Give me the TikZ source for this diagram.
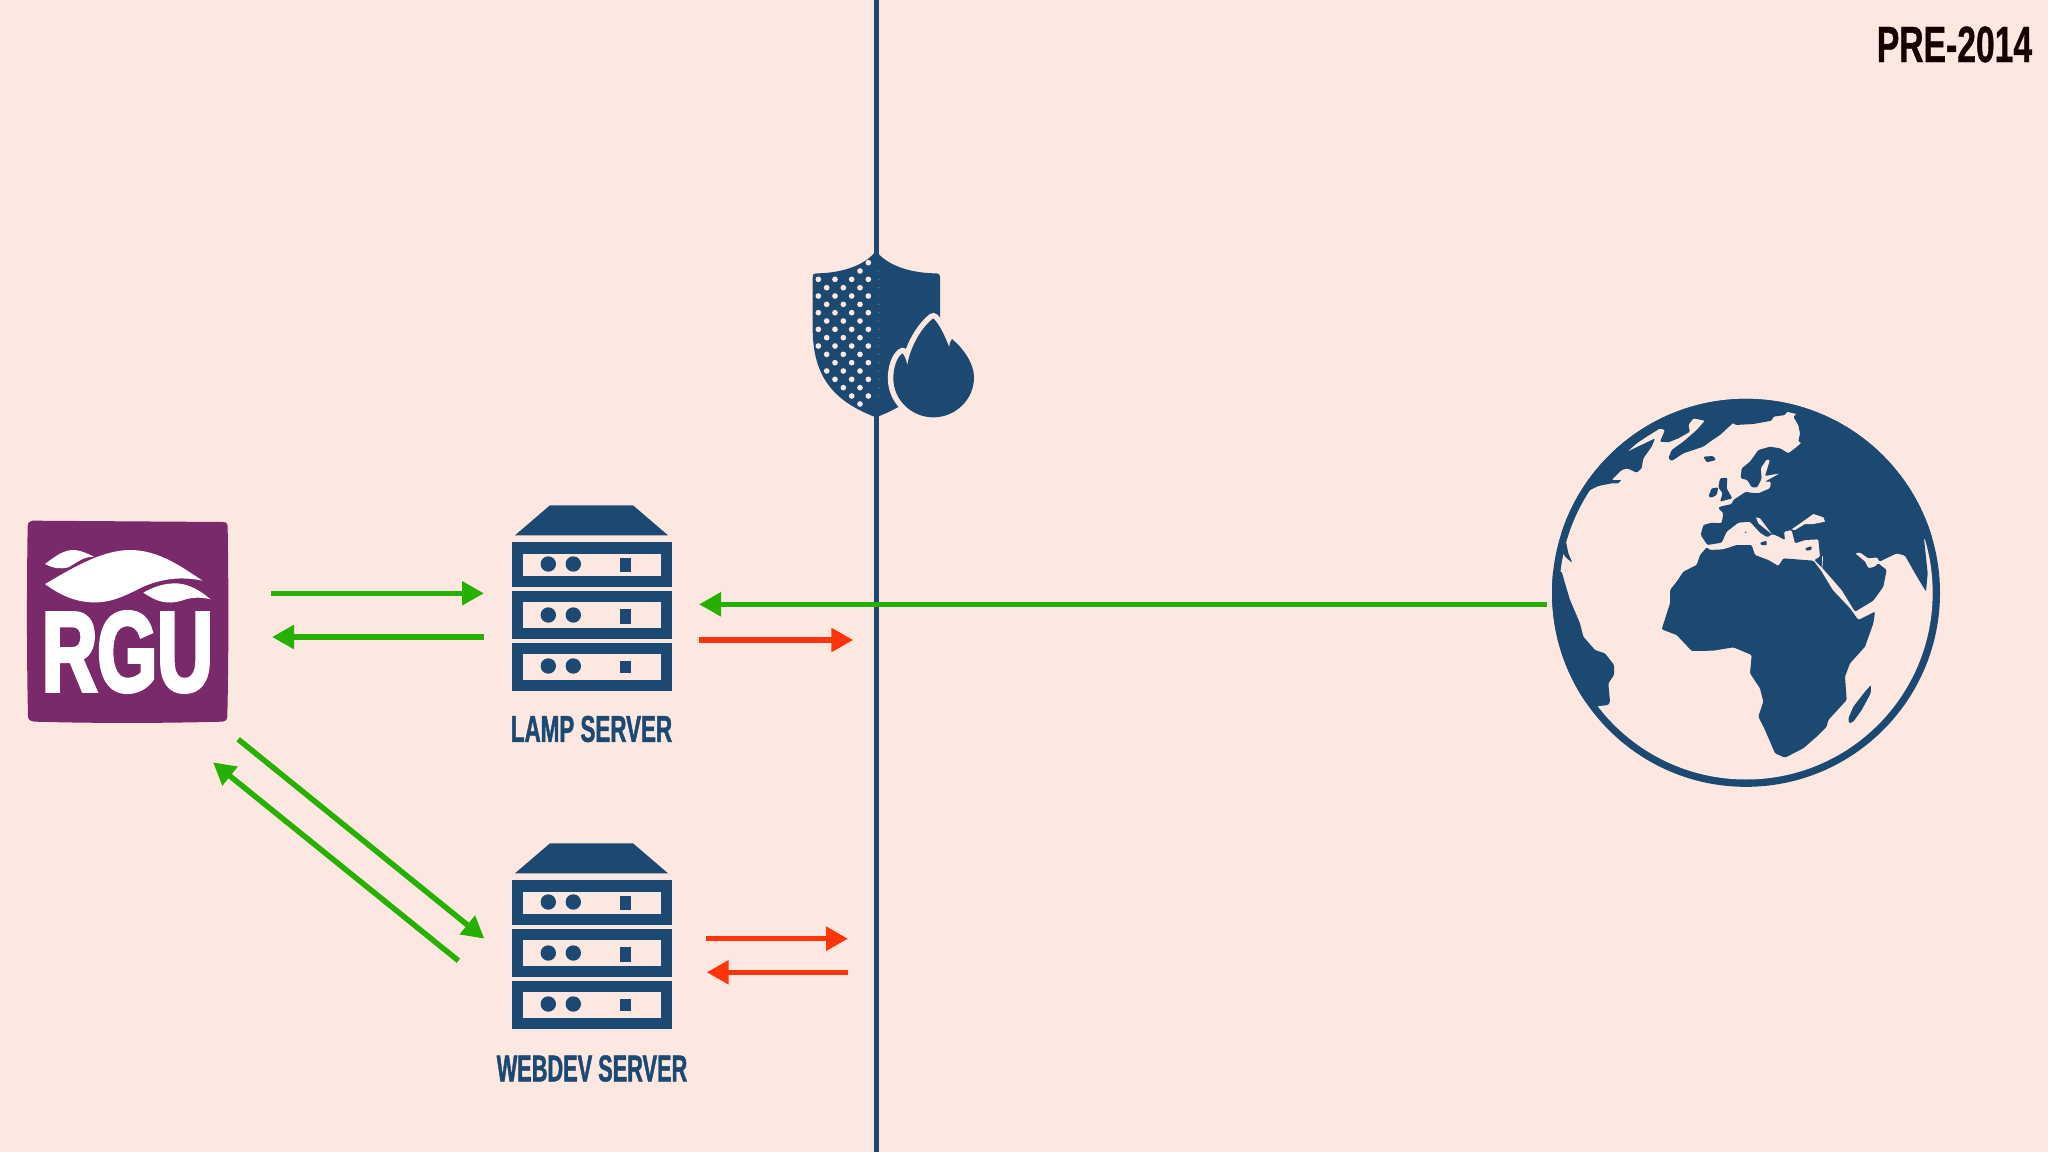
\documentclass[tikz,border=0pt]{standalone}
\usepackage{fontspec}
\usetikzlibrary{arrows.meta}
\newfontfamily\lampfont[FakeStretch=0.60,FakeBold=1.2]{Liberation Sans}
\newfontfamily\webfont[FakeStretch=0.583,FakeBold=1.2]{Liberation Sans}
\newfontfamily\prefont[FakeStretch=0.66,FakeBold=0.7]{Liberation Sans}
\newfontfamily\rgufont[FakeStretch=0.675,FakeBold=3]{Liberation Sans}
\definecolor{bgc}{HTML}{FDE8E1}
\definecolor{navy}{HTML}{1C4972}
\definecolor{flowgreen}{HTML}{26B000}
\definecolor{flowred}{HTML}{FF3408}
\definecolor{plum}{HTML}{7A2A6B}
\tikzset{
  okflow/.style={draw=flowgreen,line width=5.5pt,-{Triangle[length=22pt,width=23pt,fill=flowgreen]}},
  badflow/.style={draw=flowred,line width=5.5pt,-{Triangle[length=22pt,width=23pt,fill=flowred]}},
  land/.style={fill=navy,draw=none,rounded corners=1.2pt},
  sea/.style={fill=bgc,draw=none},
  servername/.style={text=navy,inner sep=0pt,anchor=center},
  server/.pic={
    \fill[navy] (38,-37) -- (121,-37) -- (156,-7) -- (3,-7) -- cycle;
    \fill[navy] (0,0) rectangle (160,44.7);
    \fill[navy] (0,48.7) rectangle (160,96.4);
    \fill[navy] (0,100.7) rectangle (160,148.7);
    \fill[bgc] (11,11.4) rectangle (149,33.7);
    \fill[bgc] (11,59.7) rectangle (149,85.7);
    \fill[bgc] (11,111.7) rectangle (149,137.7);
    \foreach \yy in {21.7,72.7,123.7}{
      \fill[navy] (36.3,\yy) circle[radius=7.7];
      \fill[navy] (61.3,\yy) circle[radius=7.7];
    }
    \fill[navy] (108,15.4) rectangle (119.3,30);
    \fill[navy] (108,67) rectangle (119.3,81.7);
    \fill[navy] (108,119) rectangle (119.3,130.4);
  }
}
\begin{document}
\begin{tikzpicture}[x=1pt,y=-1pt]
\useasboundingbox (0,0) rectangle (2048,1152);
\fill[bgc] (0,0) rectangle (2048,1152);
% firewall line
\coordinate (walltop) at (876.5,0);
\coordinate (wallbot) at (876.5,1152);
\draw[navy,line width=5.5pt] (walltop) -- (wallbot);
% shield
\begin{scope}[shift={(790,240)},scale=1/3]
\fill[navy] (258,32) .. controls (225,78) and (150,100) .. (78,100)
  .. controls (70,100) and (68,104) .. (68,112) -- (68,270)
  .. controls (70,400) and (120,480) .. (258,532)
  .. controls (396,480) and (450,400) .. (450,270) -- (450,112)
  .. controls (450,104) and (448,100) .. (440,100)
  .. controls (366,100) and (291,78) .. (258,32) -- cycle;
\foreach \yy/\xs in {68/{235},93/{210},118/{85,135,185,235},143/{110,160,210},168/{85,135,185,235},193/{110,160,210},218/{85,135,185,235},243/{110,160,210},268/{85,135,185,235},293/{110,160,210},318/{85,135,185,235},343/{110,160,210},368/{135,185,235},393/{110,160,210},418/{135,185,235},443/{160,210},468/{185,235},492/{210}}{
  \foreach \xx in \xs { \fill[bgc] (\xx,\yy) circle[radius=8.5]; }
}
\foreach \yy in {93,118,...,492}{ \fill[bgc!55!navy] (266,\yy) circle[radius=1.6]; }
\path[fill=navy,preaction={draw=bgc,line width=11pt,line join=round}] (430,235)
  .. controls (450,255) and (465,290) .. (478,322)
  .. controls (478,310) and (482,302) .. (486,297)
  .. controls (520,325) and (552,370) .. (552,412)
  .. controls (552,480) and (495,532) .. (430,532)
  .. controls (365,532) and (310,480) .. (310,415)
  .. controls (310,385) and (320,350) .. (338,340)
  .. controls (345,350) and (350,362) .. (352,378)
  .. controls (355,340) and (385,270) .. (430,235) -- cycle;
\end{scope}
% globe
\begin{scope}[shift={(1540,390)},scale=1/3]
\fill[navy] (618,608.5) circle[radius=582];
\fill[bgc] (618,608.5) circle[radius=560];
\begin{scope}
\clip (618,608.5) circle[radius=582];
\fill[land] (0,430) -- (80,430) -- (100,370) -- (125,330) -- (150,300) -- (175,288) -- (215,280) -- (235,280) -- (245,270) -- (215,270) -- (245,240) -- (262,235) -- (290,248) -- (305,235) -- (310,205) -- (335,170) -- (345,145) -- (325,155) -- (262,185) -- (290,160) -- (320,140) -- (360,115) -- (375,120) -- (360,155) -- (385,157) -- (415,145) -- (450,125) -- (445,105) -- (460,85) -- (495,92) -- (470,120) -- (430,155) -- (395,180) -- (385,205) -- (395,213) -- (430,190) -- (490,170) -- (510,155) -- (540,135) -- (580,98) -- (585,105) -- (640,102) -- (695,92) -- (700,80) -- (735,75) -- (740,65) -- (770,72) -- (760,80) -- (775,105) -- (780,130) -- (775,155) -- (785,158) -- (765,175) -- (745,190) -- (720,175) -- (690,170) -- (655,180) -- (630,215) -- (605,235) -- (602,265) -- (622,270) -- (635,292) -- (652,292) -- (665,265) -- (662,235) -- (680,208) -- (690,210) -- (675,258) -- (690,255) -- (720,250) -- (675,275) -- (693,275) -- (690,295) -- (655,310) -- (630,308) -- (618,305) -- (580,330) -- (575,342) -- (540,350) -- (535,355) -- (550,370) -- (545,400) -- (515,398) -- (490,405) -- (482,435) -- (502,465) -- (545,458) -- (560,425) -- (595,398) -- (630,395) -- (660,428) -- (682,442) -- (697,432) -- (712,438) -- (735,450) -- (732,425) -- (755,420) -- (765,460) -- (795,450) -- (835,448) -- (840,500) -- (823,510) -- (845,532) -- (850,537) -- (905,600) -- (945,665) -- (1000,632) -- (1030,590) -- (1040,540) -- (1015,520) -- (1005,530) -- (985,535) -- (975,515) -- (945,490) -- (960,487) -- (985,505) -- (1012,502) -- (1018,515) -- (1070,490) -- (1095,497) -- (1125,550) -- (1158,605) -- (1163,550) -- (1152,445) -- (1300,445) -- (1300,0) -- (0,0) -- cycle;
% seas carved out of Eurasia
\fill[sea] (648,382) -- (660,385) -- (690,425) -- (695,432) -- (680,420) -- (655,400) -- cycle;
\fill[sea] (755,418) -- (795,390) -- (820,372) -- (850,382) -- (855,395) -- (820,402) -- (795,402) -- (765,420) -- cycle;
\draw[bgc,line width=0.7pt] (848,498) -- (846,534);
\fill[land] (795,475) -- (815,468) -- (815,480) -- (798,482) -- cycle;
\fill[land] (660,458) -- (680,452) -- (680,466) -- (662,465) -- cycle;
\fill[navy] (617,427) circle[radius=2.5];
% British Isles and Iceland
\fill[land] (505,320) -- (515,295) -- (535,292) -- (530,315) -- (515,323) -- cycle;
\fill[land] (540,265) -- (562,263) -- (560,295) -- (577,325) -- (540,335) -- (548,310) -- (535,292) -- cycle;
\fill[land] (490,200) -- (520,198) -- (528,210) -- (500,217) -- cycle;
% Africa
\fill[land] (480,495) -- (500,472) -- (510,480) -- (550,478) -- (590,465) -- (635,465) -- (645,495) -- (685,510) -- (715,528) -- (730,505) -- (820,512) -- (843,542) -- (878,600) -- (930,655) -- (955,690) -- (1005,665) -- (1000,700) -- (975,770) -- (930,820) -- (915,860) -- (920,930) -- (865,990) -- (860,1010) -- (830,1040) -- (790,1075) -- (735,1103) -- (705,1090) -- (675,1020) -- (655,980) -- (670,935) -- (660,895) -- (630,850) -- (635,795) -- (580,772) -- (520,782) -- (455,783) -- (410,735) -- (365,718) -- (390,640) -- (390,600) -- (410,575) -- (430,545) -- (470,525) -- cycle;
% Madagascar
\fill[land] (993,885) -- (992,910) -- (965,960) -- (940,995) -- (927,1000) -- (925,985) -- (940,950) -- (975,905) -- cycle;
% South America side
\fill[land] (20,540) -- (65,545) -- (78,590) -- (90,630) -- (120,700) -- (130,740) -- (165,780) -- (195,790) -- (222,825) -- (222,855) -- (205,880) -- (210,935) -- (205,945) -- (178,948) -- (150,950) -- (20,800) -- cycle;
\fill[land] (70,455) -- (78,455) -- (85,490) -- (97,518) -- (80,505) -- (65,485) -- cycle;
\end{scope}
\end{scope}
% RGU logo
\begin{scope}[shift={(0,490)},scale=1/3]
\fill[plum] (97,92) -- (670,96) .. controls (680,97) and (683,102) .. (683,112)
  .. controls (686,300) and (686,500) .. (682,680) .. controls (682,690) and (675,694) .. (665,695)
  .. controls (480,700) and (280,700) .. (105,695) .. controls (92,694) and (84,690) .. (84,678)
  .. controls (80,500) and (80,300) .. (83,108) .. controls (84,98) and (88,93) .. (97,92) -- cycle;
\fill[white] (135,222) .. controls (170,195) and (195,178) .. (225,180) .. controls (245,182) and (265,192) .. (282,200) .. controls (250,200) and (235,215) .. (205,232) .. controls (180,238) and (160,235) .. (135,222) -- cycle;
\fill[white] (135,282) .. controls (200,245) and (300,180) .. (390,180) .. controls (480,180) and (550,235) .. (608,272) .. controls (560,262) and (500,260) .. (430,290) .. controls (380,315) and (340,335) .. (295,337) .. controls (230,340) and (180,315) .. (135,282) -- cycle;
\fill[white] (430,308) .. controls (470,285) and (500,280) .. (530,280) .. controls (570,282) and (605,305) .. (632,328) .. controls (600,320) and (570,322) .. (545,332) .. controls (500,345) and (470,335) .. (430,308) -- cycle;
\node[text=white,inner sep=0pt,font=\rgufont\bfseries\fontsize{114}{114}\selectfont] (rgu) at (382,486) {RGU};
\end{scope}
% servers
\pic (lamp) at (512,542.3) {server};
\pic (webdev) at (512,880.3) {server};
\node[servername,font=\lampfont\bfseries\fontsize{37.3}{37.3}\selectfont] (lamplabel) at (591.5,729) {LAMP SERVER};
\node[servername,font=\webfont\bfseries\fontsize{37.3}{37.3}\selectfont] (weblabel) at (592,1068.5) {WEBDEV SERVER};
\node[text=black!92!red,inner sep=0pt,font=\prefont\bfseries\fontsize{51}{51}\selectfont] (era) at (1954.5,44.5) {PRE-2014};
% connectors
\coordinate (a1) at (271,593.3); \coordinate (a2) at (484,593.3);
\coordinate (b1) at (484,637); \coordinate (b2) at (272,637);
\coordinate (c1) at (238.2,739.3); \coordinate (c2) at (484.4,938.7);
\coordinate (d1) at (458.4,960.7); \coordinate (d2) at (213,762.3);
\coordinate (e1) at (1547,604.3); \coordinate (e2) at (699,604.3);
\coordinate (f1) at (698.7,640); \coordinate (f2) at (853.3,640);
\coordinate (g1) at (705.9,938.7); \coordinate (g2) at (848,938.7);
\coordinate (h1) at (848,972.3); \coordinate (h2) at (706.7,972.3);
\draw[okflow] (a1) -- (a2);
\draw[okflow] (b1) -- (b2);
\draw[okflow] (c1) -- (c2);
\draw[okflow] (d1) -- (d2);
\draw[okflow] (e1) -- (e2);
\draw[badflow] (f1) -- (f2);
\draw[badflow] (g1) -- (g2);
\draw[badflow] (h1) -- (h2);
\end{tikzpicture}
\end{document}
